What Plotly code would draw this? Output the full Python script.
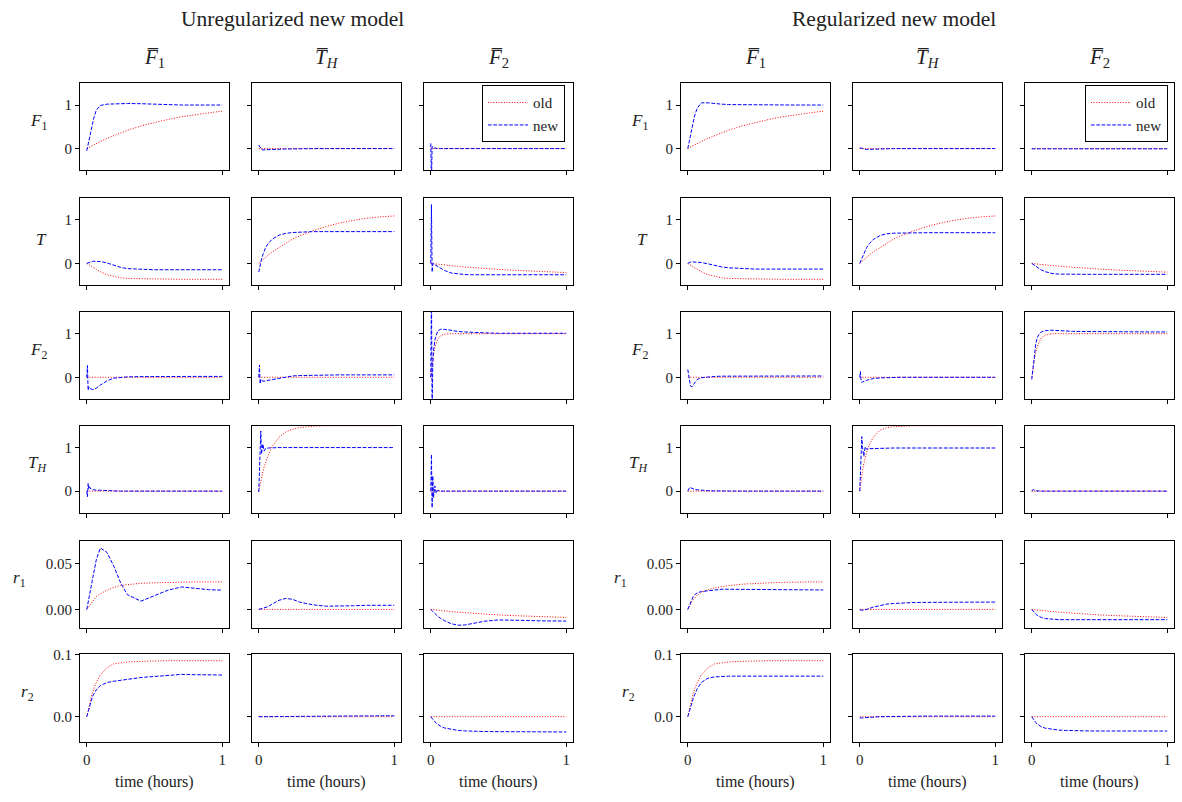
import plotly.graph_objects as go

# sample times (hours)
t = [0, 0.005, 0.01, 0.015, 0.02, 0.03, 0.04, 0.05, 0.07, 0.1, 0.15, 0.2, 0.25, 0.3, 0.4, 0.5, 0.6, 0.7, 0.8, 0.9, 1.0]

zero = [0, 0, 0, 0, 0, 0, 0, 0, 0, 0, 0, 0, 0, 0, 0, 0, 0, 0, 0, 0, 0]

# ---------------- unregularized model ----------------
un_F1_F1bar_old = [0, .009, .018, .026, .035, .052, .068, .085, .117, .163, .236, .30, .37, .42, .52, .60, .67, .73, .78, .82, .86]
un_F1_F1bar_new = [-.05, .03, .1, .18, .25, .4, .55, .68, .88, .99, 1.02, 1.03, 1.035, 1.035, 1.03, 1.015, 1.005, 1.0, 1.0, 1.0, 1.0]
un_F1_THbar_old = zero
un_F1_THbar_new = [.08, .06, .03, 0, -.02, -.03, -.03, -.025, -.02, -.02, -.015, -.01, -.005, 0, 0, 0, 0, 0, 0, 0, 0]
un_F1_F2bar_old = zero
un_F1_F2bar_new = [.12, -.8, .05, .03, .02, .01, .005, 0, 0, 0, 0, 0, 0, 0, 0, 0, 0, 0, 0, 0, 0]

un_T_F1bar_old = [0, -.01, -.02, -.03, -.04, -.06, -.08, -.1, -.14, -.19, -.26, -.3, -.33, -.345, -.355, -.36, -.36, -.365, -.365, -.365, -.365]
un_T_F1bar_new = [0, .008, .016, .022, .028, .038, .045, .05, .055, .045, .01, -.04, -.09, -.12, -.14, -.145, -.145, -.145, -.145, -.145, -.145]
un_T_THbar_old = [0, .015, .03, .044, .059, .086, .114, .141, .193, .265, .37, .47, .56, .63, .75, .85, .93, .99, 1.04, 1.07, 1.09]
un_T_THbar_new = [-.2, -.1, -.02, .05, .1, .2, .28, .36, .46, .56, .65, .69, .71, .72, .73, .73, .73, .73, .73, .73, .73]
un_T_F2bar_old = [0, -.002, -.004, -.006, -.008, -.012, -.015, -.019, -.026, -.036, -.052, -.067, -.081, -.094, -.117, -.137, -.155, -.17, -.185, -.2, -.21]
un_T_F2bar_new = [0, 1.35, -.2, 0, -.01, -.03, -.05, -.07, -.11, -.16, -.22, -.245, -.255, -.26, -.26, -.26, -.26, -.26, -.26, -.26, -.26]

un_F2_F1bar_old = zero
un_F2_F1bar_new = [0, .27, -.3, -.22, -.25, -.27, -.28, -.28, -.25, -.18, -.08, -.02, 0, .01, .015, .02, .02, .02, .02, .02, .02]
un_F2_THbar_old = zero
un_F2_THbar_new = [0, .28, -.15, -.05, -.08, -.09, -.09, -.08, -.07, -.05, -.02, .01, .03, .04, .05, .05, .055, .055, .055, .055, .055]
un_F2_F2bar_old = [0, .15, .3, .42, .52, .68, .8, .87, .95, .99, 1, 1, 1, 1, 1, 1, 1, 1, 1, 1, 1]
un_F2_F2bar_new = [0, 2.0, -.8, .3, .6, .85, .98, 1.06, 1.1, 1.1, 1.08, 1.05, 1.04, 1.03, 1.02, 1.01, 1.01, 1.01, 1.01, 1.01, 1.01]

un_TH_F1bar_old = zero
un_TH_F1bar_new = [0, -.13, .18, .05, .1, .05, .04, .03, .02, .02, .01, .01, 0, 0, 0, 0, 0, 0, 0, 0, 0]
un_TH_THbar_old = [0, .09, .17, .24, .31, .44, .56, .66, .83, 1.03, 1.24, 1.36, 1.42, 1.46, 1.49, 1.5, 1.5, 1.5, 1.5, 1.5, 1.5]
un_TH_THbar_new = [-.02, .6, 1.2, 1.38, .85, 1.08, .92, .98, .99, 1, 1, 1, 1, 1, 1, 1, 1, 1, 1, 1, 1]
un_TH_F2bar_old = zero
un_TH_F2bar_new = [0, .84, -.38, .35, -.15, .12, -.05, .02, 0, 0, 0, 0, 0, 0, 0, 0, 0, 0, 0, 0, 0]

un_r1_F1bar_old = [0, .001, .0025, .0035, .0045, .007, .009, .011, .014, .017, .021, .024, .026, .027, .0285, .029, .0295, .0295, .03, .03, .03]
un_r1_F1bar_new = [0, .004, .008, .012, .016, .025, .033, .041, .054, .067, .062, .047, .029, .016, .009, .015, .021, .0245, .023, .0215, .021]
un_r1_THbar_old = zero
un_r1_THbar_new = [0, .0002, .0004, .0006, .0008, .0012, .0016, .002, .003, .006, .01, .012, .011, .008, .005, .0035, .0035, .004, .0045, .0045, .0045]
un_r1_F2bar_old = [0, -.0001, -.0002, -.0003, -.0004, -.0005, -.0007, -.0008, -.0011, -.0016, -.0023, -.003, -.0036, -.0042, -.0052, -.006, -.0067, -.0073, -.0079, -.0084, -.0088]
un_r1_F2bar_new = [0, -.0008, -.0016, -.0024, -.0032, -.0047, -.006, -.0073, -.0095, -.0122, -.0155, -.0172, -.017, -.0158, -.0128, -.0115, -.0115, -.012, -.0125, -.0127, -.0127]

un_r2_F1bar_old = [0, .005, .01, .015, .02, .029, .037, .044, .055, .067, .079, .085, .087, .088, .089, .09, .09, .09, .09, .09, .09]
un_r2_F1bar_new = [0, .004, .009, .013, .017, .025, .031, .036, .043, .05, .055, .057, .059, .06, .063, .065, .067, .068, .0675, .067, .067]
un_r2_THbar_old = zero
un_r2_THbar_new = [0, 0, 0, 0, 0, 0, .0001, .0001, .0002, .0003, .0004, .0005, .0006, .0007, .0009, .001, .0011, .0012, .0013, .0014, .0015]
un_r2_F2bar_old = zero
un_r2_F2bar_new = [0, -.0015, -.003, -.0045, -.006, -.0085, -.0105, -.012, -.015, -.018, -.0205, -.022, -.0228, -.0233, -.0238, -.024, -.0243, -.0245, -.0245, -.0245, -.0245]

# ---------------- regularized model ----------------
re_F1_F1bar_old = [0, .009, .018, .026, .035, .052, .068, .085, .117, .163, .236, .30, .37, .42, .52, .60, .67, .73, .78, .82, .86]
re_F1_F1bar_new = [0, .08, .16, .24, .32, .48, .62, .75, .93, 1.05, 1.05, 1.03, 1.02, 1.01, 1.005, 1, 1, 1, 1, 1, 1]
re_F1_THbar_old = zero
re_F1_THbar_new = [.02, .015, .01, 0, -.01, -.02, -.02, -.02, -.02, -.015, -.01, -.005, 0, 0, 0, 0, 0, 0, 0, 0, 0]
re_F1_F2bar_old = zero
re_F1_F2bar_new = [-.005, -.005, -.005, -.005, -.005, -.005, -.005, -.005, -.005, -.005, -.005, -.005, -.005, -.005, -.005, -.005, -.005, -.005, -.005, -.005, -.005]

re_T_F1bar_old = [0, -.01, -.02, -.03, -.04, -.06, -.08, -.1, -.14, -.19, -.26, -.3, -.33, -.345, -.355, -.36, -.36, -.365, -.365, -.365, -.365]
re_T_F1bar_new = [0, .01, .02, .025, .03, .035, .035, .035, .03, .02, -.01, -.05, -.08, -.1, -.12, -.13, -.13, -.13, -.13, -.13, -.13]
re_T_THbar_old = [0, .015, .03, .044, .059, .086, .114, .141, .193, .265, .37, .47, .56, .63, .75, .85, .93, .99, 1.04, 1.07, 1.09]
re_T_THbar_new = [0, .04, .08, .12, .16, .23, .3, .36, .45, .55, .64, .68, .695, .7, .705, .705, .705, .705, .705, .705, .705]
re_T_F2bar_old = [0, -.002, -.004, -.006, -.008, -.011, -.015, -.018, -.025, -.034, -.05, -.064, -.077, -.09, -.112, -.131, -.148, -.163, -.177, -.19, -.2]
re_T_F2bar_new = [0, -.01, -.02, -.035, -.045, -.07, -.095, -.115, -.15, -.19, -.23, -.245, -.25, -.25, -.25, -.25, -.25, -.25, -.25, -.25, -.25]

re_F2_F1bar_old = zero
re_F2_F1bar_new = [.18, .1, 0, -.1, -.2, -.22, -.18, -.12, -.05, -.01, .01, .02, .025, .025, .03, .03, .03, .03, .03, .03, .03]
re_F2_THbar_old = zero
re_F2_THbar_new = [0, .13, -.1, -.12, -.11, -.09, -.08, -.07, -.05, -.03, -.015, -.005, 0, 0, 0, 0, 0, 0, 0, 0, 0]
re_F2_F2bar_old = [0, .12, .24, .34, .43, .58, .7, .78, .9, .97, 1, 1, 1, 1, 1, 1, 1, 1, 1, 1, 1]
re_F2_F2bar_new = [-.05, .1, .25, .4, .55, .78, .9, .97, 1.04, 1.07, 1.08, 1.07, 1.06, 1.055, 1.05, 1.045, 1.04, 1.04, 1.04, 1.04, 1.04]

re_TH_F1bar_old = zero
re_TH_F1bar_new = [0, .04, .07, .09, .08, .06, .05, .04, .03, .02, .01, .005, 0, 0, 0, 0, 0, 0, 0, 0, 0]
re_TH_THbar_old = [0, .13, .25, .36, .46, .63, .77, .88, 1.06, 1.24, 1.4, 1.46, 1.48, 1.49, 1.5, 1.5, 1.5, 1.5, 1.5, 1.5, 1.5]
re_TH_THbar_new = [0, .55, 1.15, 1.25, 1.0, .8, 1.02, .96, .975, .98, .985, .985, .99, .99, .99, .99, .99, .99, .99, .99, .99]
re_TH_F2bar_old = zero
re_TH_F2bar_new = [0, .02, .04, .03, .02, .01, .005, 0, 0, 0, 0, 0, 0, 0, 0, 0, 0, 0, 0, 0, 0]

re_r1_F1bar_old = [0, .0015, .003, .0045, .006, .0085, .0105, .0125, .0155, .0185, .0215, .0235, .025, .026, .0275, .0285, .029, .0295, .03, .03, .03]
re_r1_F1bar_new = [0, .002, .004, .006, .008, .011, .014, .016, .018, .0195, .0205, .0215, .022, .022, .0218, .0215, .0213, .0212, .0212, .0212, .0212]
re_r1_THbar_old = zero
re_r1_THbar_new = [-.0005, -.0008, -.001, -.001, -.001, -.0008, -.0005, 0, .001, .0025, .0045, .0058, .0065, .007, .0075, .0077, .0078, .008, .008, .008, .008]
re_r1_F2bar_old = [0, -.0001, -.0002, -.0003, -.0004, -.0005, -.0007, -.0008, -.0011, -.0016, -.0023, -.003, -.0036, -.0042, -.0052, -.006, -.0067, -.0073, -.0079, -.0084, -.0088]
re_r1_F2bar_new = [0, -.001, -.002, -.003, -.0038, -.0052, -.0064, -.0074, -.0088, -.01, -.0108, -.0111, -.0112, -.0112, -.0112, -.0112, -.0112, -.0112, -.0112, -.0112, -.0112]

re_r2_F1bar_old = [0, .005, .01, .015, .02, .029, .037, .044, .055, .067, .079, .085, .087, .088, .089, .09, .09, .09, .09, .09, .09]
re_r2_F1bar_new = [0, .004, .008, .012, .016, .023, .029, .035, .045, .055, .062, .064, .065, .0652, .0652, .0652, .0652, .0652, .0652, .0652, .0652]
re_r2_THbar_old = zero
re_r2_THbar_new = [-.002, -.0022, -.0022, -.002, -.0019, -.0017, -.0015, -.0013, -.0009, -.0004, 0, .0003, .0006, .0008, .001, .001, .001, .001, .001, .001, .001]
re_r2_F2bar_old = zero
re_r2_F2bar_new = [0, -.002, -.004, -.0055, -.007, -.0095, -.0115, -.013, -.016, -.0185, -.0205, -.0215, -.022, -.0225, -.0228, -.023, -.023, -.023, -.023, -.023, -.023]

# panel table: rows = output variable, columns = input step
row_keys = ["F1", "T", "F2", "TH", "r1", "r2"]
col_keys = ["F1bar", "THbar", "F2bar"]
row_labels = ["<i>F</i><sub>1</sub>", "<i>T</i>", "<i>F</i><sub>2</sub>", "<i>T</i><sub><i>H</i></sub>",
              "<i>r</i><sub>1</sub>", "<i>r</i><sub>2</sub>"]
col_titles = ["<i>F\u0305</i><sub>1</sub>", "<i>T\u0305</i><sub><i>H</i></sub>", "<i>F\u0305</i><sub>2</sub>"]
group_titles = ["Unregularized new model", "Regularized new model"]
y_ranges = [[-0.5, 1.5]] * 4 + [[-0.02, 0.075], [-0.04, 0.1]]
y_ticks = [[0, 1]] * 4 + [[0, 0.05], [0, 0.1]]
y_ticktext = [["0", "1"]] * 4 + [["0.00", "0.05"], ["0.0", "0.1"]]

series = globals()

W, H = 1182, 802
col_left = [80, 252, 424, 681, 853, 1025]
col_w = 149
row_top = [76, 192, 307, 422, 538, 653]
row_h = 88
label_right = [49, 49, 49, 49, 28, 36]   # right edge of each row label, left group
FONT = "Liberation Serif"
INK = "#222"

fig = go.Figure()
layout = dict(
    width=W, height=H, margin=dict(l=0, r=0, t=0, b=0),
    paper_bgcolor="white", plot_bgcolor="white",
    font=dict(family=FONT, size=15, color=INK),
    annotations=[], showlegend=True,
)


def note(text, x, y, size, xanchor="center"):
    layout["annotations"].append(dict(
        text=text, x=x / W, y=1 - y / H, xref="paper", yref="paper",
        xanchor=xanchor, yanchor="middle", showarrow=False,
        font=dict(family=FONT, size=size, color=INK)))


for g, prefix in enumerate(["un", "re"]):
    for r, rk in enumerate(row_keys):
        for c, ck in enumerate(col_keys):
            gc = g * 3 + c
            k = r * 6 + gc + 1
            xa = "x" if k == 1 else f"x{k}"
            ya = "y" if k == 1 else f"y{k}"
            legend_name = "legend" if g == 0 else "legend2"
            first = (r == 0 and c == 2)
            old = series[f"{prefix}_{rk}_{ck}_old"]
            new = series[f"{prefix}_{rk}_{ck}_new"]
            fig.add_trace(go.Scatter(
                x=t, y=old, xaxis=xa, yaxis=ya, mode="lines", name="old",
                line=dict(color="red", width=1, dash="1px,1.65px"),
                showlegend=first, legend=legend_name, hoverinfo="skip"))
            fig.add_trace(go.Scatter(
                x=t, y=new, xaxis=xa, yaxis=ya, mode="lines", name="new",
                line=dict(color="blue", width=1, dash="3.7px,1.6px"),
                showlegend=first, legend=legend_name, hoverinfo="skip"))

            L = col_left[gc]
            top = row_top[r]
            axis_common = dict(showgrid=False, zeroline=False, showline=True, mirror=True,
                               linecolor="black", linewidth=1, ticks="outside", ticklen=4,
                               tickwidth=1, tickcolor="black",
                               tickfont=dict(family=FONT, size=15, color=INK))
            layout["xaxis" if k == 1 else f"xaxis{k}"] = dict(
                axis_common, domain=[L / W, (L + col_w) / W], anchor=ya,
                range=[-0.05, 1.05], tickvals=[0, 1], ticktext=["0", "1"],
                showticklabels=(r == 5))
            layout["yaxis" if k == 1 else f"yaxis{k}"] = dict(
                axis_common, domain=[1 - (top + row_h) / H, 1 - top / H], anchor=xa,
                range=y_ranges[r], tickvals=y_ticks[r], ticktext=y_ticktext[r],
                showticklabels=(c == 0))

    # group heading, column headings and x-axis titles
    note(group_titles[g], [292, 894][g], 11, 21.5)
    for c in range(3):
        cx = col_left[g * 3 + c] + col_w / 2
        note(col_titles[c], cx, 51, 21)
        note("time (hours)", cx, 782, 16)
    # row labels
    shift = col_left[3] - col_left[0]
    for r in range(6):
        yoff = -5 if r in (0, 2, 3, 4, 5) else -2
        note(row_labels[r], label_right[r] + g * shift, row_top[r] + row_h / 2 + yoff, 17, xanchor="right")

legend_common = dict(xanchor="right", yanchor="top", bgcolor="white", bordercolor="black",
                     borderwidth=1, font=dict(family=FONT, size=15, color=INK),
                     itemwidth=40, tracegroupgap=0)
layout["legend"] = dict(legend_common, x=(col_left[2] + col_w - 8) / W, y=1 - 78 / H)
layout["legend2"] = dict(legend_common, x=(col_left[5] + col_w - 6) / W, y=1 - 78 / H)

fig.update_layout(layout)
fig.write_html("out.html")
